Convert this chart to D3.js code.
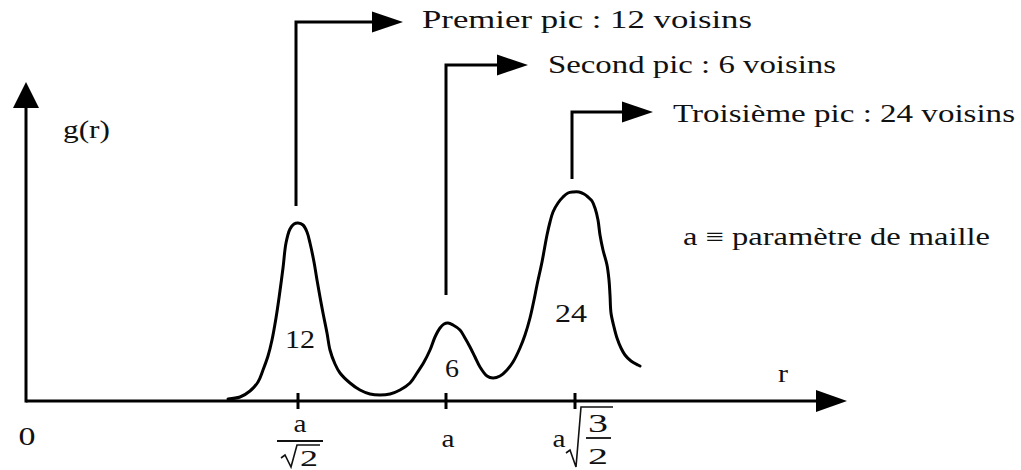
<!DOCTYPE html>
<html>
<head>
<meta charset="utf-8">
<script src="https://cdn.jsdelivr.net/npm/d3@7"></script>
<style>
  html, body { margin: 0; padding: 0; background: #fff; }
  svg { display: block; }
  text { font-family: "Liberation Serif", "Times New Roman", Times, serif; fill: #111; }
</style>
</head>
<body>
<svg id="chart" width="1021" height="470"></svg>
<script>
// ---- data (r in arbitrary units, g(r) in arbitrary units) ----
const curveR = [2.02,2.14,2.24,2.32,2.37,2.42,2.46,2.50,2.53,2.57,2.60,2.64,2.68,2.72,2.77,2.81,2.84,2.88,2.91,2.94,2.97,3.01,3.04,3.09,3.14,3.24,3.34,3.44,3.54,3.64,3.74,3.84,3.91,3.98,4.04,4.09,4.14,4.18,4.22,4.27,4.34,4.39,4.44,4.49,4.54,4.61,4.67,4.74,4.81,4.87,4.94,4.99,5.04,5.08,5.11,5.16,5.21,5.24,5.27,5.32,5.37,5.42,5.47,5.53,5.58,5.62,5.66,5.69,5.72,5.74,5.77,5.81,5.83,5.84,5.85,5.88,5.91,5.95,5.99,6.05,6.12,6.14];
const curveG = [0.02,0.04,0.10,0.19,0.31,0.45,0.61,0.83,1.03,1.33,1.58,1.72,1.77,1.78,1.76,1.69,1.58,1.39,1.21,1.04,0.88,0.68,0.51,0.37,0.28,0.18,0.11,0.07,0.06,0.07,0.11,0.18,0.28,0.39,0.51,0.64,0.73,0.77,0.78,0.76,0.71,0.63,0.54,0.44,0.34,0.25,0.23,0.25,0.31,0.39,0.53,0.66,0.83,1.01,1.16,1.39,1.66,1.79,1.89,1.98,2.04,2.08,2.09,2.09,2.07,2.04,2.00,1.93,1.81,1.66,1.51,1.36,1.21,1.06,0.88,0.74,0.63,0.53,0.46,0.40,0.36,0.35];

const tickR = [2.72, 4.20, 5.49];                 // a/√2, a, a√(3/2)
const peakR = [2.72, 4.22, 5.48];
const peakCounts = ["12", "6", "24"];
const peakTexts = ["Premier pic : 12 voisins", "Second pic : 6 voisins", "Troisième pic :  24 voisins"];
const noteText = "a ≡ paramètre de maille";
const yLabel = "g(r)";
const xLabel = "r";
const originLabel = "0";

// ---- layout ----
const svg = d3.select("#chart");
const x = d3.scaleLinear().domain([0, 8.2]).range([26, 846]);
const y = d3.scaleLinear().domain([0, 3.2]).range([401, 81]);
const SW = 3;
const FS = 25;

function txt(str, cx, baseline, len, anchor, fs) {
  const t = svg.append("text")
    .attr("y", baseline)
    .attr("font-size", fs || FS)
    .attr("textLength", len)
    .attr("lengthAdjust", "spacingAndGlyphs")
    .text(str);
  t.attr("x", anchor === "middle" ? cx - len / 2 : cx);
  return t;
}

// axes
const x0 = x(0), y0 = y(0);
svg.append("line").attr("x1", x0).attr("y1", y0).attr("x2", 816).attr("y2", y0)
  .attr("stroke", "#000").attr("stroke-width", SW);
svg.append("path").attr("d", d3.line()([[816, y0 - 11], [847, y0], [816, y0 + 11]]) + "Z").attr("fill", "#000");
svg.append("line").attr("x1", x0).attr("y1", y0 + 1.5).attr("x2", x0).attr("y2", 106)
  .attr("stroke", "#000").attr("stroke-width", SW);
svg.append("path").attr("d", d3.line()([[x0 - 13, 108], [x0, 82], [x0 + 13, 108]]) + "Z").attr("fill", "#000");

// ticks
svg.selectAll("line.tick").data(tickR).join("line").attr("class", "tick")
  .attr("x1", d => x(d)).attr("x2", d => x(d))
  .attr("y1", y0 - 8).attr("y2", y0 + 8)
  .attr("stroke", "#000").attr("stroke-width", SW);

// curve
const pts = curveR.map((r, i) => [x(r), y(curveG[i])]);
svg.append("path")
  .attr("d", d3.line().curve(d3.curveCatmullRom.alpha(0.5))(pts))
  .attr("fill", "none").attr("stroke", "#000").attr("stroke-width", SW)
  .attr("stroke-linejoin", "round").attr("stroke-linecap", "round");

// leader lines with arrows
const leaders = [
  { bottom: 206, top: 22, end: 373, tx: 422, tb: 28, tl: 330 },
  { bottom: 295, top: 65, end: 498, tx: 548, tb: 73, tl: 288 },
  { bottom: 179, top: 112, end: 623, tx: 673, tb: 122, tl: 342 }
];
leaders.forEach((L, i) => {
  const px = x(peakR[i]) - 2;
  svg.append("path")
    .attr("d", d3.line()([[px, L.bottom], [px, L.top], [L.end, L.top]]))
    .attr("fill", "none").attr("stroke", "#000").attr("stroke-width", SW);
  svg.append("path")
    .attr("d", d3.line()([[L.end - 1, L.top - 10.5], [L.end + 30, L.top], [L.end - 1, L.top + 10.5]]) + "Z")
    .attr("fill", "#000");
  txt(peakTexts[i], L.tx, L.tb, L.tl, "start");
});

// peak count labels
txt(peakCounts[0], 300, 348, 30, "middle");
txt(peakCounts[1], 452, 377, 14, "middle");
txt(peakCounts[2], 571, 322, 32, "middle");

// other labels
txt(noteText, 683, 245, 307, "start");
txt(yLabel, 63, 138, 47, "start");
txt(xLabel, 783, 382, 10, "middle");
txt(originLabel, 27, 445, 17, "middle");

// tick label: a/√2
const t1 = x(tickR[0]);
txt("a", t1 + 2, 432, 13, "middle");
svg.append("line").attr("x1", t1 - 21).attr("x2", t1 + 25).attr("y1", 441).attr("y2", 441)
  .attr("stroke", "#111").attr("stroke-width", 1.8);
svg.append("path").attr("d", d3.line()([[t1 - 17, 458], [t1 - 13, 455], [t1 - 7, 467], [t1 - 1, 445], [t1 + 22, 445]]))
  .attr("fill", "none").attr("stroke", "#111").attr("stroke-width", 1.6);
txt("2", t1 + 11, 466, 18, "middle", 23);

// tick label: a
txt("a", x(tickR[1]) + 2, 447, 13, "middle");

// tick label: a√(3/2)
const t3 = x(tickR[2]);
txt("a", t3 - 16, 447, 13, "middle");
svg.append("path").attr("d", d3.line()([[t3 - 9, 453], [t3 - 5, 450], [t3 + 1, 467], [t3 + 6, 407], [t3 + 38, 407]]))
  .attr("fill", "none").attr("stroke", "#111").attr("stroke-width", 1.6);
txt("3", t3 + 23, 432, 20, "middle");
svg.append("line").attr("x1", t3 + 11).attr("x2", t3 + 36).attr("y1", 438).attr("y2", 438)
  .attr("stroke", "#111").attr("stroke-width", 1.8);
txt("2", t3 + 23, 464, 20, "middle", 23);
</script>
</body>
</html>
